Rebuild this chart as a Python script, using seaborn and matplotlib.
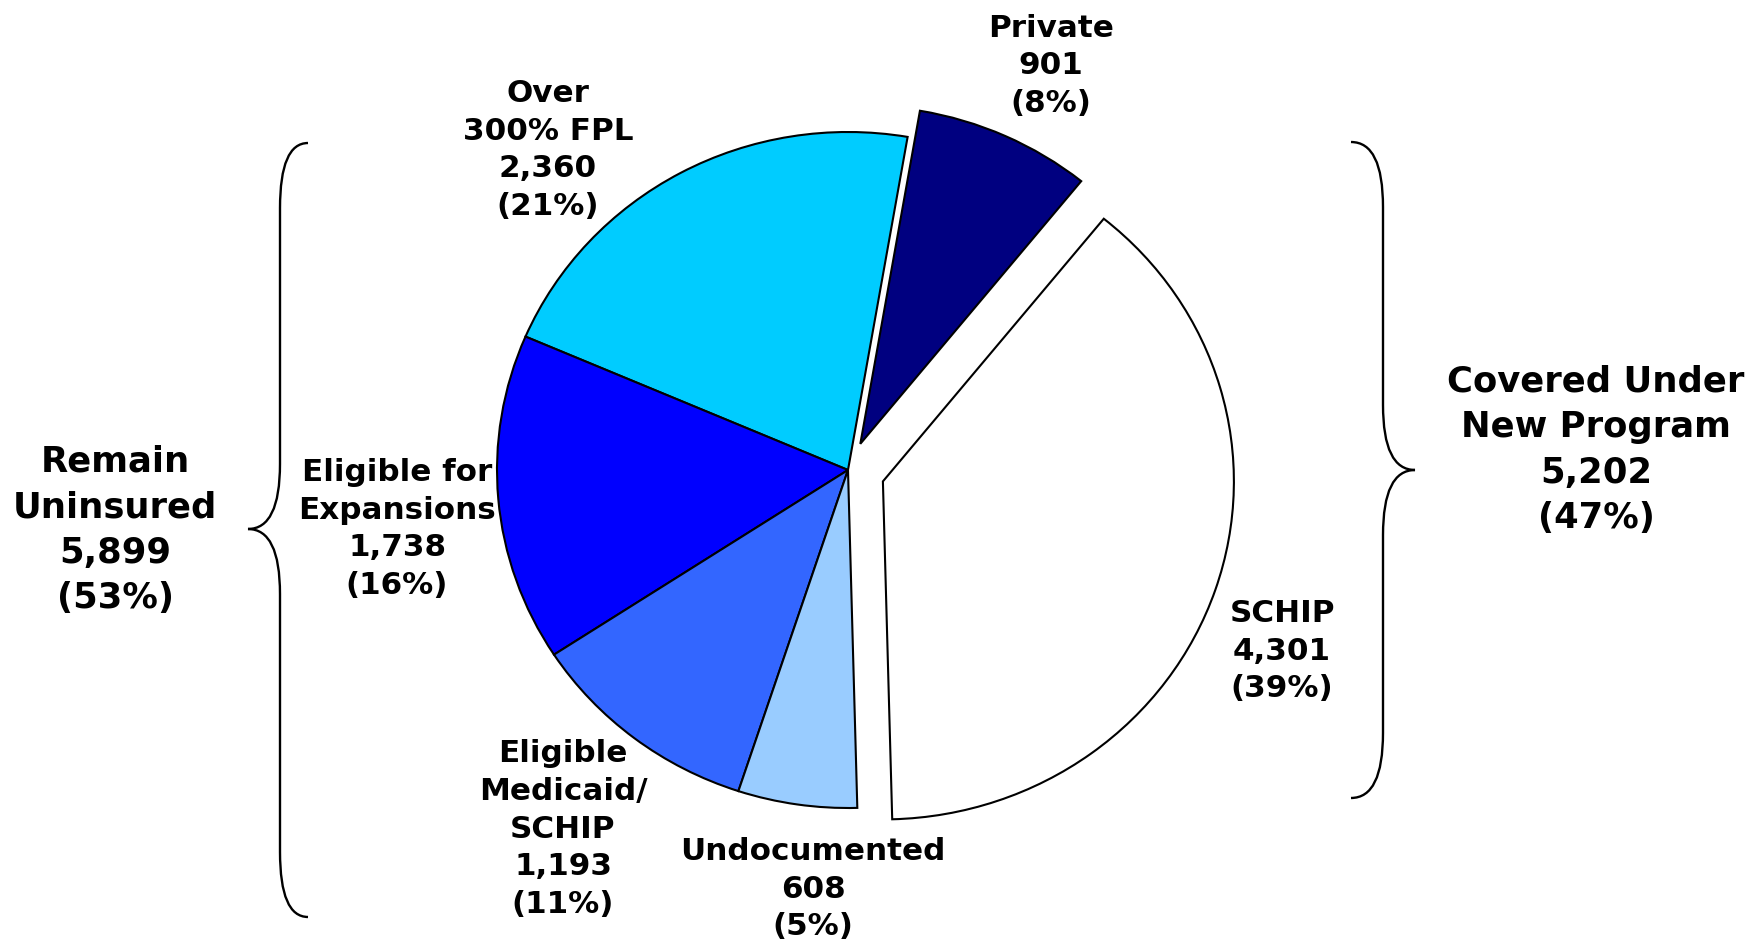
import matplotlib
matplotlib.use("Agg")
import matplotlib.pyplot as plt
from matplotlib.path import Path
from matplotlib.patches import PathPatch
import seaborn as sns

# slices, counter-clockwise starting at Private
names = ["Private", "Over\n300% FPL", "Eligible for\nExpansions",
         "Eligible\nMedicaid/\nSCHIP", "Undocumented", "SCHIP"]
counts = [901, 2360, 1738, 1193, 608, 4301]
pcts = [8, 21, 16, 11, 5, 39]
colors = ["#000080", "#00CCFF", "#0000FF", "#3366FF", "#99CCFF", "#FFFFFF"]
explode = [0.085, 0, 0, 0, 0, 0.105]

groups = ["Remain\nUninsured", "Covered Under\nNew Program"]
group_counts = [5899, 5202]
group_pcts = [53, 47]

# label centres in pixels (x, y from top)
label_pos = [(1051, 66), (548, 150), (397, 529), (563, 829), (813, 889), (1282, 651)]
group_pos = [(115, 530), (1596, 450)]

sns.set_style("white")
plt.rcParams["font.family"] = ["DejaVu Sans"]
plt.rcParams["text.color"] = "black"

W, H = 1754, 944
fig = plt.figure(figsize=(W / 100, H / 100), dpi=100)

# pie is a bit wider than tall in the original
rx, ry = 351, 338
cx, cy = 848, 470
aw, ah = 2 * rx * 1.25, 2 * ry * 1.25
ax = fig.add_axes([(cx - aw / 2) / W, (H - cy - ah / 2) / H, aw / W, ah / H])
ax.pie(counts, colors=colors, explode=explode, startangle=51, counterclock=True,
       wedgeprops=dict(edgecolor="black", linewidth=1.5))
ax.set_aspect("auto")
ax.set_xlim(-1.25, 1.25)
ax.set_ylim(-1.25, 1.25)
ax.axis("off")

ov = fig.add_axes([0, 0, 1, 1])
ov.set_xlim(0, W)
ov.set_ylim(H, 0)
ov.axis("off")
ov.patch.set_facecolor("none")

for n, c, p, (x, y) in zip(names, counts, pcts, label_pos):
    ov.text(x, y, f"{n}\n{c:,}\n({p}%)", ha="center", va="center", color="black",
            fontsize=22.3, fontweight="bold", linespacing=1.38, multialignment="center")

for g, c, p, (x, y) in zip(groups, group_counts, group_pcts, group_pos):
    ov.text(x, y, f"{g}\n{c:,}\n({p}%)", ha="center", va="center", color="black",
            fontsize=25.5, fontweight="bold", linespacing=1.42, multialignment="center")


def brace(x_end, x_mid, x_tip, y_top, y_tip, y_bot, h=65):
    verts = [(x_end, y_top), (x_mid, y_top), (x_mid, y_top + h),
             (x_mid, y_tip - h),
             (x_mid, y_tip), (x_tip, y_tip),
             (x_mid, y_tip), (x_mid, y_tip + h),
             (x_mid, y_bot - h),
             (x_mid, y_bot), (x_end, y_bot)]
    codes = [Path.MOVETO, Path.CURVE3, Path.CURVE3, Path.LINETO,
             Path.CURVE3, Path.CURVE3, Path.CURVE3, Path.CURVE3,
             Path.LINETO, Path.CURVE3, Path.CURVE3]
    ov.add_patch(PathPatch(Path(verts, codes), facecolor="none",
                           edgecolor="black", linewidth=1.7))


brace(308, 280, 248, 143, 529, 917)
brace(1351, 1383, 1415, 142, 470, 798)

fig.savefig("out.png", dpi=100)
